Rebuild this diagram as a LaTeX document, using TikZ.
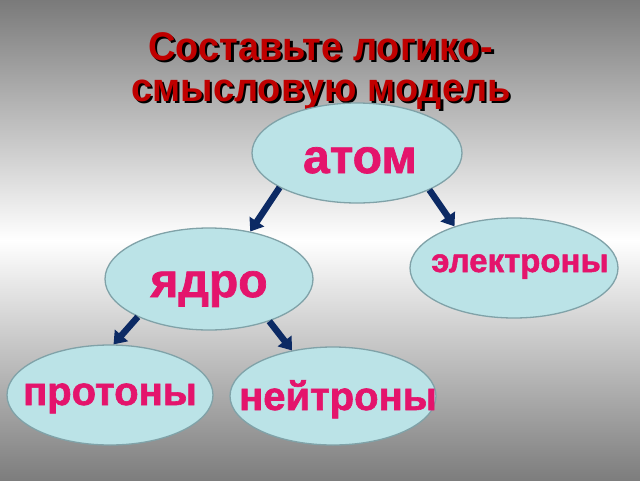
\documentclass[tikz,border=0pt]{standalone}
\usepackage{fontspec}
\setmainfont{Liberation Sans}
\newfontfamily\wafont[FakeBold=1.5]{Liberation Sans Bold}
\usetikzlibrary{arrows.meta,shapes.geometric}
\definecolor{bgtop}{RGB}{122,122,122}
\definecolor{bgbot}{RGB}{125,125,125}
\definecolor{ellfill}{RGB}{187,227,231}
\definecolor{ellline}{RGB}{128,162,168}
\definecolor{wapink}{RGB}{228,20,108}
\definecolor{arrblue}{RGB}{12,42,100}
\definecolor{ttlred}{RGB}{192,0,0}
\newcommand\ttlshadow[1]{\makebox[0pt][l]{\hspace{2.5pt}\raisebox{-2.5pt}{\color{black}#1}}#1}
\begin{document}
\begin{tikzpicture}[x=1pt,y=-1pt,
  ell/.style={ellipse,draw=ellline,fill=ellfill,line width=1.3pt,inner sep=0pt},
  wa/.style={text=wapink,inner sep=0pt,anchor=base},
  arr/.style={draw=arrblue,line width=6.5pt,-{Triangle[length=12pt,width=17pt]}},
  ttl/.style={text=ttlred,inner sep=0pt,anchor=base,xscale=0.95,font=\bfseries\fontsize{40}{46}\selectfont}]
\shade[top color=bgtop,bottom color=bgbot,middle color=white] (0,0) rectangle (640,480);
% title
\node[ttl] (t1) at (321,60) {\ttlshadow{Составьте логико-}};
\node[ttl] (t2) at (321,101) {\ttlshadow{смысловую модель}};
% ellipses
\node[ell,minimum width=210pt,minimum height=100pt] (atom) at (357,153) {};
\node[ell,minimum width=208pt,minimum height=102pt] (yadro) at (209,279) {};
\node[ell,minimum width=208pt,minimum height=100pt] (elek) at (514,268) {};
\node[ell,minimum width=206pt,minimum height=100pt] (prot) at (110,395) {};
\node[ell,minimum width=206pt,minimum height=98pt] (neit) at (333,396) {};
% texts
\node[wa,font=\wafont\fontsize{48}{50}\selectfont] (atomT) at (360,173) {атом};
\node[wa,font=\wafont\fontsize{48}{50}\selectfont] (yadroT) at (209,297) {ядро};
\node[wa,font=\wafont\fontsize{33}{36}\selectfont] (elekT) at (520,272) {электроны};
\node[wa,font=\wafont\fontsize{40}{44}\selectfont] (protT) at (110,405) {протоны};
\node[wa,font=\wafont\fontsize{40}{44}\selectfont] (neitT) at (338,410) {нейтроны};
% arrows
\draw[arr] (atom.204) -- (yadro.49);
\draw[arr] (atom.333) -- (elek.145);
\draw[arr] (yadro.208) -- (prot.86);
\draw[arr] (yadro.325) -- (neit.132);
\end{tikzpicture}
\end{document}
